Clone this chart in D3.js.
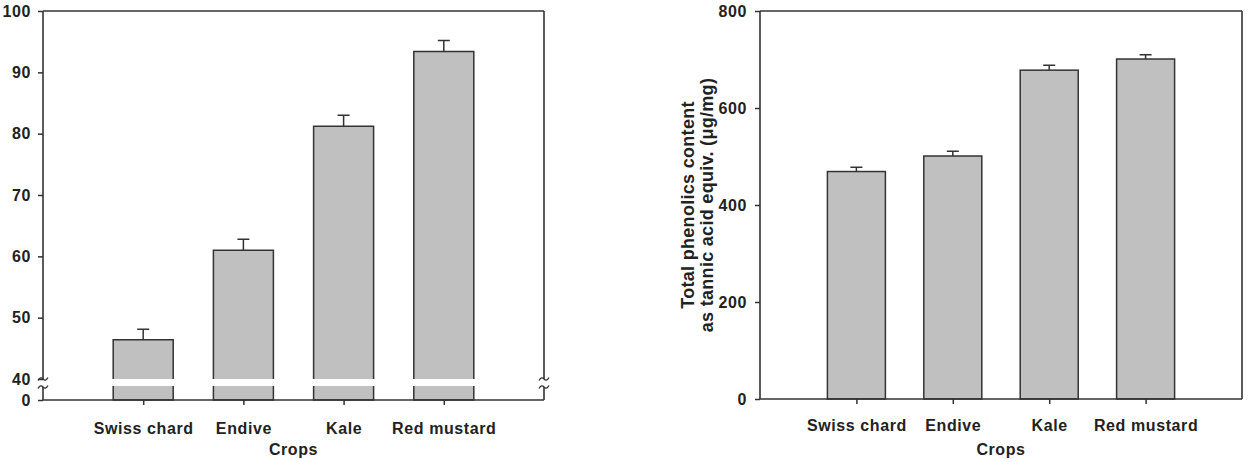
<!DOCTYPE html>
<html><head><meta charset="utf-8">
<script src="https://cdn.jsdelivr.net/npm/d3@7"></script>
<style>
body{margin:0;background:#fff}
svg{display:block}
text{font-family:"Liberation Sans",Arial,sans-serif;font-weight:bold;fill:#222}
</style>
</head><body>
<svg id="c" width="1248" height="459"></svg>
<script>
const crops = ["Swiss chard", "Endive", "Kale", "Red mustard"];
const leftValues = [46.4, 61.0, 81.2, 93.4];
const leftErrors = [1.7, 1.8, 1.8, 1.8];
const leftUpperTicks = [40, 50, 60, 70, 80, 90, 100];
const leftLowerTicks = [0];
const rightValues = [469, 501, 678, 701];
const rightErrors = [9, 10, 10, 9];
const rightTicks = [0, 200, 400, 600, 800];
const xTitle = "Crops";
const yTitleLines = ["Total phenolics content", "as tannic acid equiv. (\u03bcg/mg)"];

const svg = d3.select("#c");
const INK = "#333";
const FS = 16;
const LS = "0.6px";

function squiggle(g, x, y) {
  g.append("path")
    .attr("d", `M${x-5},${y+1.5} Q${x-2.5},${y-3} ${x},${y} T${x+5},${y-1.5}`)
    .attr("fill", "none").attr("stroke", INK).attr("stroke-width", 1.3);
}
function line(g, x1, y1, x2, y2, w) {
  g.append("line").attr("x1", x1).attr("y1", y1).attr("x2", x2).attr("y2", y2)
    .attr("stroke", INK).attr("stroke-width", w || 1.6);
}
function styleAxis(a, size) {
  a.select(".domain").remove();
  a.selectAll(".tick line").attr("stroke", INK).attr("stroke-width", 1.5);
  a.selectAll(".tick text").attr("font-size", size || FS).attr("fill", "#222")
    .attr("letter-spacing", LS)
    .attr("font-family", "Liberation Sans, Arial, sans-serif").attr("font-weight", "bold");
}

// ---------- Left panel ----------
const L = {x0: 43, x1: 544, top: 11, brk: 379, lowTop: 386, bottom: 400};
const xL = d3.scalePoint().domain(crops).range([L.x0, L.x1]).padding(1);
const yUp = d3.scaleLinear().domain([40, 100]).range([L.brk, L.top]);
const yLow = d3.scaleLinear().domain([0, 1]).range([L.bottom, L.lowTop]);
const bwL = 60;
const gL = svg.append("g");

gL.selectAll(".bu").data(crops).join("path")
  .attr("d", (c, i) => { const a = xL(c) - bwL/2, b = xL(c) + bwL/2;
    return `M${a},${yUp(40)}V${yUp(leftValues[i])}H${b}V${yUp(40)}`; })
  .attr("fill", "#c0c0c0").attr("stroke", INK).attr("stroke-width", 1.5);
gL.selectAll(".bl").data(crops).join("path")
  .attr("d", (c, i) => { const a = xL(c) - bwL/2, b = xL(c) + bwL/2;
    return `M${a},${yLow(1)}V${yLow(0)}H${b}V${yLow(1)}`; })
  .attr("fill", "#c0c0c0").attr("stroke", INK).attr("stroke-width", 1.5);
gL.selectAll(".eb").data(crops).join("path")
  .attr("d", (c, i) => { const x = xL(c), y0 = yUp(leftValues[i]), y1 = yUp(leftValues[i] + leftErrors[i]);
    return `M${x},${y0}V${y1}M${x-6},${y1}H${x+6}`; })
  .attr("fill", "none").attr("stroke", INK).attr("stroke-width", 1.5);

line(gL, L.x0, L.top, L.x1, L.top);
line(gL, L.x0, L.top, L.x0, L.brk);
line(gL, L.x0, L.brk + 8, L.x0, L.bottom);
line(gL, L.x1, L.top, L.x1, L.brk);
line(gL, L.x1, L.brk + 8, L.x1, L.bottom);
line(gL, L.x0, L.bottom, L.x1, L.bottom);
squiggle(gL, L.x0, L.brk); squiggle(gL, L.x0, L.brk + 8);
squiggle(gL, L.x1, L.brk); squiggle(gL, L.x1, L.brk + 8);

gL.append("g").attr("transform", `translate(${L.x0},0)`)
  .call(d3.axisLeft(yUp).tickValues(leftUpperTicks).tickSize(5).tickPadding(7).tickFormat(d3.format("d")))
  .call(a => styleAxis(a));
gL.append("g").attr("transform", `translate(${L.x0},0)`)
  .call(d3.axisLeft(yLow).tickValues(leftLowerTicks).tickSize(5).tickPadding(7).tickFormat(d3.format("d")))
  .call(a => styleAxis(a));
gL.append("g").attr("transform", `translate(0,${L.bottom})`)
  .call(d3.axisBottom(xL).tickSize(5).tickPadding(18))
  .call(a => styleAxis(a));
gL.append("text").attr("x", (L.x0 + L.x1)/2).attr("y", 455)
  .attr("text-anchor", "middle").attr("font-size", FS).attr("letter-spacing", LS).text(xTitle);

// ---------- Right panel ----------
const R = {x0: 760, x1: 1242, top: 11, bottom: 399};
const xR = d3.scalePoint().domain(crops).range([R.x0, R.x1]).padding(1);
const yR = d3.scaleLinear().domain([0, 800]).range([R.bottom, R.top]);
const bwR = 58;
const gR = svg.append("g");

gR.selectAll(".b").data(crops).join("rect")
  .attr("x", c => xR(c) - bwR/2).attr("width", bwR)
  .attr("y", (c, i) => yR(rightValues[i])).attr("height", (c, i) => yR(0) - yR(rightValues[i]))
  .attr("fill", "#c0c0c0").attr("stroke", INK).attr("stroke-width", 1.5);
gR.selectAll(".eb").data(crops).join("path")
  .attr("d", (c, i) => { const x = xR(c), y0 = yR(rightValues[i]), y1 = yR(rightValues[i] + rightErrors[i]);
    return `M${x},${y0}V${y1}M${x-6},${y1}H${x+6}`; })
  .attr("fill", "none").attr("stroke", INK).attr("stroke-width", 1.5);

line(gR, R.x0, R.top, R.x1, R.top);
line(gR, R.x0, R.top, R.x0, R.bottom);
line(gR, R.x1, R.top, R.x1, R.bottom);
line(gR, R.x0, R.bottom, R.x1, R.bottom);

gR.append("g").attr("transform", `translate(${R.x0},0)`)
  .call(d3.axisLeft(yR).tickValues(rightTicks).tickSize(5).tickPadding(8))
  .call(a => styleAxis(a));
gR.append("g").attr("transform", `translate(0,${R.bottom})`)
  .call(d3.axisBottom(xR).tickSize(5).tickPadding(15.5))
  .call(a => styleAxis(a));
gR.append("text").attr("x", (R.x0 + R.x1)/2).attr("y", 455)
  .attr("text-anchor", "middle").attr("font-size", FS).attr("letter-spacing", LS).text(xTitle);

const yt = gR.append("g");
[693.5, 712.5].forEach((x, i) => {
  yt.append("text").attr("transform", `translate(${x},205) rotate(-90)`)
    .attr("text-anchor", "middle").attr("font-size", 18).attr("letter-spacing", "0.3px").text(yTitleLines[i]);
});
</script>
</body></html>
